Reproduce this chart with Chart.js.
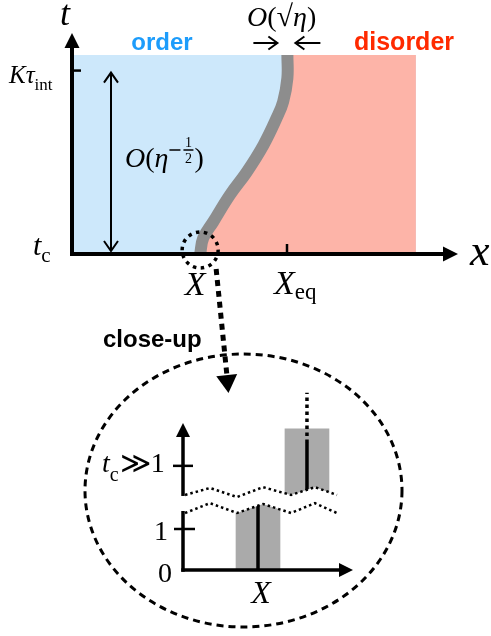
<!DOCTYPE html>
<html lang="en">
<head>
<meta charset="UTF-8" />
<title>Order / disorder boundary</title>
<script src="https://cdn.jsdelivr.net/npm/chart.js"></script>
<style>
  body { margin: 0; background: #fff; }
  #wrap { position: relative; width: 491px; height: 636px; }
  #wrap canvas { position: absolute; left: 0; top: 0; }
</style>
</head>
<body>
<div id="wrap">
  <canvas id="main" width="491" height="636"></canvas>
  <canvas id="inset" width="491" height="636"></canvas>
</div>
<script>
// ---- top panel (arbitrary units, x: 0..100, t: 0..100, t = 0 is t_c)
const boundaryX = [33.2, 34.0, 36.6, 40.9, 45.3, 49.6, 53.0, 54.7, 55.8, 55.8];
const boundaryT = [0, 7.2, 14.6, 26.7, 37.2, 49.3, 61.5, 68.9, 79.6, 90.0];
const regionTop = 90;
const regionRight = 89.1;
const xTickValues = [33.2, 55.7];   // X, X_eq
const tTickValues = [0, 83];        // t_c, K tau_int
const spanArrowX = 10.1;            // the O(eta^-1/2) arrow

// ---- close-up (x in units of X, y = time, broken axis)
const barX = [1, 1.653];
const barLow = [0, 1.7];
const barHigh = [1.6, 3.44];
const lineLow = [0, 1.95];
const lineHigh = [1.59, 3.1];
const dottedTop = 4.32;
const insetTicks = [0, 1, 2.54];
const breakX = [0.027, 0.36, 0.72, 1.067, 1.44, 1.76, 2.053];
const breakUpper = [1.83, 2.0, 1.78, 2.02, 1.83, 2.02, 1.83];
const breakLower = [1.39, 1.63, 1.39, 1.61, 1.39, 1.63, 1.39];

const SERIF = '"Liberation Serif", "DejaVu Serif", serif';
const SANS = '"Liberation Sans", Arial, sans-serif';
const BLUE = '#cde8fb', PINK = '#fdb4a8';

function seg(ctx, x1, y1, x2, y2) {
  ctx.beginPath(); ctx.moveTo(x1, y1); ctx.lineTo(x2, y2); ctx.stroke();
}
function tri(ctx, x, y, ang, len, half) {
  ctx.save(); ctx.translate(x, y); ctx.rotate(ang);
  ctx.beginPath(); ctx.moveTo(0, 0); ctx.lineTo(-len, -half); ctx.lineTo(-len, half);
  ctx.closePath(); ctx.fill(); ctx.restore();
}
function vee(ctx, x, y, ang, len, half) {
  ctx.save(); ctx.translate(x, y); ctx.rotate(ang);
  ctx.beginPath(); ctx.moveTo(-len, -half); ctx.lineTo(0, 0); ctx.lineTo(-len, half);
  ctx.stroke(); ctx.restore();
}
// draw text pieces one after another: [text, font, dy]
function runs(ctx, x, y, parts) {
  ctx.textAlign = 'left';
  for (const [txt, font, dy] of parts) {
    ctx.font = font;
    ctx.fillText(txt, x, y + (dy || 0));
    x += ctx.measureText(txt).width;
  }
  return x;
}
const it = s => 'italic ' + s + 'px ' + SERIF;
const rm = s => s + 'px ' + SERIF;

const topDecor = {
  id: 'topDecor',
  afterDatasetsDraw(chart) {
    const { ctx, chartArea: a, scales: { x: sx, y: sy } } = chart;
    const x0 = sx.getPixelForValue(0), y0 = sy.getPixelForValue(0);
    ctx.save();
    ctx.strokeStyle = ctx.fillStyle = '#000';
    ctx.lineJoin = 'miter';

    // axes with arrows
    ctx.lineWidth = 4;
    seg(ctx, x0, y0, a.right - 12, y0);
    tri(ctx, a.right, y0, 0, 15, 7.5);
    seg(ctx, x0, y0 + 2, x0, a.top + 12);
    tri(ctx, x0, a.top, -Math.PI / 2, 15, 7.5);

    // ticks
    ctx.lineWidth = 2.5;
    const yK = sy.getPixelForValue(tTickValues[1]);
    seg(ctx, x0, yK, x0 + 9, yK);
    const xEq = sx.getPixelForValue(xTickValues[1]);
    seg(ctx, xEq, y0, xEq, y0 - 10);

    // O(eta^-1/2) double arrow
    ctx.lineWidth = 2;
    const xa = sx.getPixelForValue(spanArrowX);
    seg(ctx, xa, yK + 2, xa, y0 - 3);
    vee(ctx, xa, yK + 2, -Math.PI / 2, 10, 7);
    vee(ctx, xa, y0 - 3, Math.PI / 2, 10, 7);

    // O(sqrt eta) width arrows at the top of the boundary
    const xb = sx.getPixelForValue(boundaryX[boundaryX.length - 1]);
    const ya = 43;
    seg(ctx, xb - 34, ya, xb - 11, ya);
    vee(ctx, xb - 10, ya, 0, 9, 6.5);
    seg(ctx, xb + 33, ya, xb + 9, ya);
    vee(ctx, xb + 8, ya, Math.PI, 9, 6.5);

    // labels
    ctx.textBaseline = 'alphabetic';
    runs(ctx, 60, 25, [['t', it(36)]]);
    runs(ctx, 470, y0 + 11, [['x', it(44)]]);
    runs(ctx, 33, y0 + 1, [['t', it(30)], ['c', rm(21), 7]]);
    runs(ctx, 9, yK + 12, [['K', it(25)], ['\u03C4', it(25)], ['int', rm(17), 7]]);
    const xX = sx.getPixelForValue(xTickValues[0]);
    ctx.textAlign = 'center'; ctx.font = it(34);
    ctx.fillText('X', xX - 5, y0 + 41);
    runs(ctx, xEq - 13, y0 + 40, [['X', it(34)], ['eq', rm(23), 5]]);
    runs(ctx, 247, 26, [['O', it(28)], ['(', rm(28)], ['\u221A', rm(30)], ['\u03B7', it(28)], [')', rm(28)]]);
    let xe = runs(ctx, 125, 167, [['O', it(28)], ['(', rm(28)], ['\u03B7', it(28)]]);
    ctx.lineWidth = 1.5;
    seg(ctx, xe + 1, 150, xe + 12, 150);
    seg(ctx, xe + 15, 150, xe + 25, 150);
    ctx.textAlign = 'center'; ctx.font = rm(14);
    ctx.fillText('1', xe + 20, 147);
    ctx.fillText('2', xe + 20, 163);
    runs(ctx, xe + 26, 167, [[')', rm(28)]]);

    ctx.font = 'bold 24px ' + SANS; ctx.textAlign = 'center';
    ctx.fillStyle = '#1c9cfb';
    ctx.fillText('order', 162, 50);
    ctx.fillStyle = '#ff2a00';
    ctx.font = 'bold 25px ' + SANS;
    ctx.fillText('disorder', 404, 50);

    // dotted circle around X and the close-up pointer
    ctx.fillStyle = ctx.strokeStyle = '#000';
    ctx.lineWidth = 3.5;
    ctx.setLineDash([3.5, 4.5]);
    ctx.beginPath(); ctx.arc(xX, y0 - 4, 18, 0, Math.PI * 2); ctx.stroke();
    ctx.lineWidth = 5;
    ctx.setLineDash([6, 5]);
    seg(ctx, xX + 16, y0 + 15, 227, 376);
    ctx.setLineDash([]);
    tri(ctx, 228.5, 393, Math.atan2(393 - (y0 + 15), 228.5 - (xX + 16)), 18, 10.5);

    ctx.font = 'bold 24px ' + SANS; ctx.textAlign = 'left';
    ctx.fillText('close-up', 103, 347);

    // dashed ellipse framing the close-up
    ctx.lineWidth = 3;
    ctx.setLineDash([7, 5]);
    ctx.beginPath(); ctx.ellipse(243.5, 490.5, 158.5, 136.5, 0, 0, Math.PI * 2); ctx.stroke();
    ctx.restore();
  }
};

new Chart(document.getElementById('main'), {
  type: 'line',
  data: {
    datasets: [
      { data: [{ x: 0, y: regionTop }, { x: regionRight, y: regionTop }],
        fill: 'start', backgroundColor: BLUE, borderColor: 'rgba(0,0,0,0)', borderWidth: 0,
        pointRadius: 0, order: 3 },
      // starts a little inside the boundary so no seam shows; the grey line covers the overlap
      { data: [{ x: boundaryX[boundaryX.length - 1] - 1, y: regionTop }, { x: regionRight, y: regionTop }],
        fill: 'start', backgroundColor: PINK, borderColor: 'rgba(0,0,0,0)', borderWidth: 0,
        pointRadius: 0, order: 2 },
      { data: boundaryX.map((x, i) => ({ x, y: boundaryT[i] })),
        fill: 'start', backgroundColor: PINK, borderColor: '#8d8d8d', borderWidth: 12,
        borderCapStyle: 'butt', tension: 0.4, pointRadius: 0, order: 1 }
    ]
  },
  options: {
    responsive: false, animation: false, events: [],
    layout: { padding: { left: 72, right: 33, top: 33, bottom: 382 } },
    scales: {
      x: { type: 'linear', display: false, min: 0, max: 100 },
      y: { type: 'linear', display: false, min: 0, max: 100 }
    },
    plugins: { legend: { display: false }, tooltip: { enabled: false } }
  },
  plugins: [topDecor]
});

const insetDecor = {
  id: 'insetDecor',
  afterDatasetsDraw(chart) {
    const { ctx, chartArea: a, scales: { x: sx, y: sy } } = chart;
    const x0 = sx.getPixelForValue(0), y0 = sy.getPixelForValue(0);
    ctx.save();
    ctx.strokeStyle = ctx.fillStyle = '#000';
    ctx.lineWidth = 3.5;
    seg(ctx, x0 - 1.75, y0, a.right - 12, y0);
    tri(ctx, a.right, y0, 0, 14, 7);
    seg(ctx, x0, y0 + 1.75, x0, sy.getPixelForValue(breakLower[0]) - 2);
    seg(ctx, x0, sy.getPixelForValue(breakUpper[0]) + 1, x0, a.top + 12);
    tri(ctx, x0, a.top, -Math.PI / 2, 14, 7);

    ctx.lineWidth = 2.5;
    const y1 = sy.getPixelForValue(insetTicks[1]);
    const y2 = sy.getPixelForValue(insetTicks[2]);
    seg(ctx, x0 - 9, y1, x0 + 12, y1);
    seg(ctx, x0 - 10, y2, x0 + 10, y2);

    ctx.textBaseline = 'alphabetic';
    ctx.textAlign = 'right'; ctx.font = rm(28);
    ctx.fillText('0', x0 - 11, y0 + 12);
    ctx.fillText('1', x0 - 15, y1 + 11);
    runs(ctx, 102, y2 + 6, [['t', it(28)], ['c', rm(20), 9], [' ', rm(4)], ['\u226B', rm(30), 1], ['1', rm(28)]]);
    ctx.textAlign = 'center'; ctx.font = it(32);
    ctx.fillText('X', sx.getPixelForValue(barX[0]) + 3, y0 + 33);
    ctx.restore();
  }
};

const pts = (xs, ys) => xs.map((x, i) => ({ x, y: ys[i] }));
const blackLine = { type: 'line', borderColor: '#000', borderWidth: 3.5, pointRadius: 0, fill: false, borderCapStyle: 'butt' };

new Chart(document.getElementById('inset'), {
  type: 'bar',
  data: {
    datasets: [
      { type: 'bar', data: barX.map((x, i) => ({ x, y: [barLow[i], barHigh[i]] })),
        backgroundColor: '#aaaaaa', barThickness: 44, borderWidth: 0, order: 6 },
      Object.assign({ data: pts([barX[0], barX[0]], [lineLow[0], lineHigh[0]]), order: 5 }, blackLine),
      Object.assign({ data: pts([barX[1], barX[1]], [lineLow[1], lineHigh[1]]), order: 4 }, blackLine),
      Object.assign({}, blackLine, { data: pts([barX[1], barX[1]], [lineHigh[1], dottedTop]),
        borderDash: [3.5, 3.5], clip: false, order: 3 }),
      { type: 'line', data: pts(breakX, breakUpper), fill: '+1', backgroundColor: '#fff',
        borderColor: '#000', borderWidth: 2.5, borderDash: [2.5, 3], pointRadius: 0, order: 2 },
      { type: 'line', data: pts(breakX, breakLower), fill: false,
        borderColor: '#000', borderWidth: 2.5, borderDash: [2.5, 3], pointRadius: 0, order: 1 }
    ]
  },
  options: {
    responsive: false, animation: false, events: [],
    layout: { padding: { left: 183, right: 138, top: 423, bottom: 66 } },
    scales: {
      x: { type: 'linear', display: false, offset: false, min: 0, max: 2.2667 },
      y: { type: 'linear', display: false, min: 0, max: 3.585 }
    },
    plugins: { legend: { display: false }, tooltip: { enabled: false } }
  },
  plugins: [insetDecor]
});
</script>
</body>
</html>
